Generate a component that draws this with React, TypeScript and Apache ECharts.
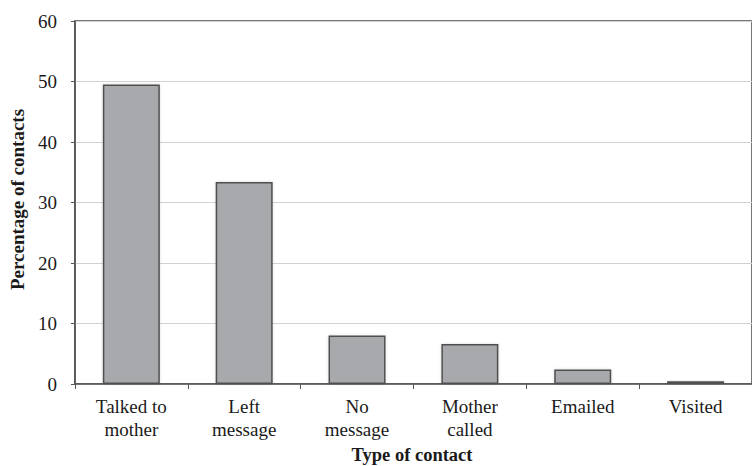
import React, { useEffect, useRef } from "react";
import * as echarts from "echarts";

const categories = ["Talked to\nmother", "Left\nmessage", "No\nmessage", "Mother\ncalled", "Emailed", "Visited"];
const values = [49.5, 33.4, 8.0, 6.6, 2.4, 0.45];
const yTicks = [0, 10, 20, 30, 40, 50, 60];
const yAxisTitle = "Percentage of contacts";
const xAxisTitle = "Type of contact";

const FONT = "Times New Roman, Liberation Serif, DejaVu Serif, serif";

export default function App() {
  const ref = useRef<HTMLDivElement>(null);
  useEffect(() => {
    if (!ref.current) return;
    const chart = echarts.init(ref.current, undefined, { renderer: "svg" });
    chart.setOption({
      animation: false,
      backgroundColor: "#ffffff",
      textStyle: { fontFamily: FONT },
      grid: {
        left: 70,
        top: 21,
        width: 694,
        height: 363,
        show: true,
        borderColor: "#4a4a4a",
        borderWidth: 1.5,
        backgroundColor: "transparent",
      },
      xAxis: {
        type: "category",
        data: categories,
        boundaryGap: true,
        axisLine: { show: true, lineStyle: { color: "#555555", width: 1.5 } },
        axisTick: { show: true, alignWithLabel: false, length: 5, lineStyle: { color: "#555555" } },
        axisLabel: {
          interval: 0,
          margin: 11,
          color: "#1a1a1a",
          fontFamily: FONT,
          fontSize: 19,
          lineHeight: 23,
        },
      },
      yAxis: {
        type: "value",
        min: yTicks[0],
        max: yTicks[yTicks.length - 1],
        interval: 10,
        name: yAxisTitle,
        nameLocation: "middle",
        nameGap: 44,
        nameTextStyle: { fontFamily: FONT, fontSize: 19, fontWeight: "bold", color: "#1a1a1a", padding: [0, 0, 0, 6] },
        axisLine: { show: true, lineStyle: { color: "#555555", width: 1.5 } },
        axisTick: { show: true, inside: false, length: 4, lineStyle: { color: "#555555" } },
        axisLabel: { margin: 18, color: "#1a1a1a", fontFamily: FONT, fontSize: 19 },
        splitLine: { show: true, lineStyle: { color: "#d2d2d2", width: 1 } },
      },
      graphic: [
        {
          type: "text",
          x: 412,
          y: 455,
          style: {
            text: xAxisTitle,
            fontFamily: FONT,
            fontSize: 18.5,
            fontWeight: "bold",
            fill: "#1a1a1a",
            textAlign: "center",
            textVerticalAlign: "middle",
          },
        },
      ],
      series: [
        {
          type: "bar",
          data: values,
          barWidth: "50.5%",
          itemStyle: {
            color: "#a8a9ac",
            borderColor: "#505050",
            borderWidth: 1.5,
            shadowColor: "rgba(0,0,0,0.15)",
            shadowBlur: 3,
          },
        },
      ],
    });
    return () => chart.dispose();
  }, []);
  return <div ref={ref} style={{ width: 752, height: 466, position: "absolute", left: 0, top: 0 }} />;
}
